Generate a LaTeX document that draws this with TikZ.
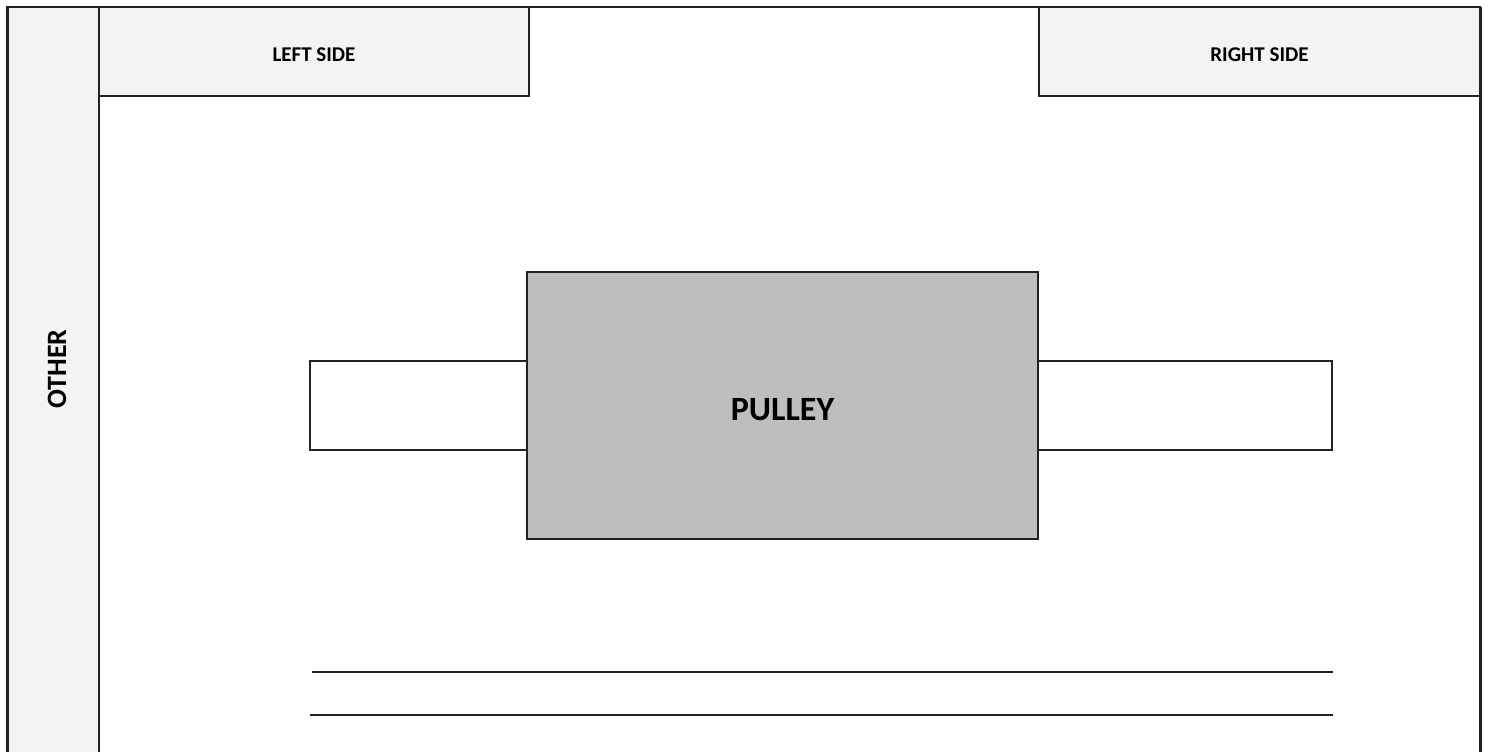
\documentclass[tikz,border=0pt]{standalone}
\usepackage{fontspec}
\setmainfont{Carlito}
\definecolor{panel}{HTML}{F2F3F5}
\definecolor{pulleygrey}{HTML}{BEBEBE}
\definecolor{edge}{HTML}{222222}
\begin{document}
\begin{tikzpicture}[x=1pt,y=-1pt,
  box/.style={draw=edge, line width=1.4pt, inner sep=0pt, outer sep=0pt, anchor=north west},
  headbox/.style={box, fill=panel, font=\fontsize{21}{25}\selectfont\bfseries},
  rule/.style={draw=edge, line width=1.4pt}]
\useasboundingbox (0,0) rectangle (1489,752);
% OTHER column
\node[box, fill=panel, minimum width=92pt, minimum height=760pt] (col) at (7,7) {};
\node[rotate=90, font=\fontsize{28}{32}\selectfont\bfseries] (other) at (57,369) {OTHER};
% header boxes
\node[headbox, minimum width=430pt, minimum height=89pt] (left) at (99,7) {\raisebox{-10pt}[0pt][0pt]{LEFT SIDE}};
\node[headbox, minimum width=441pt, minimum height=89pt] (right) at (1039,7) {\raisebox{-10pt}[0pt][0pt]{RIGHT SIDE}};
% shafts
\node[box, fill=white, minimum width=217pt, minimum height=89pt] (lshaft) at (310,361) {};
\node[box, fill=white, minimum width=294pt, minimum height=89pt] (rshaft) at (1038,361) {};
% pulley
\node[box, fill=pulleygrey, minimum width=511pt, minimum height=267pt,
      font=\fontsize{34}{40}\selectfont\bfseries] (pulley) at (527,272) {\raisebox{-15pt}[0pt][0pt]{PULLEY}};
\draw[edge, line width=2.6pt] (pulley.north east) -- (pulley.south east);
% outer frame
\draw[edge, line width=1.6pt] (7,760) -- (7,7) -- (1480,7) -- (1480,760);
\draw[edge, line width=3pt] (7,7) -- (7,760);
\draw[edge, line width=3pt] (1480,7) -- (1480,760);
% lines
\coordinate (l1a) at (312,672);
\coordinate (l1b) at (1333,672);
\coordinate (l2a) at (310,715);
\coordinate (l2b) at (1333,715);
\draw[rule] (l1a) -- (l1b);
\draw[rule] (l2a) -- (l2b);
\end{tikzpicture}
\end{document}
